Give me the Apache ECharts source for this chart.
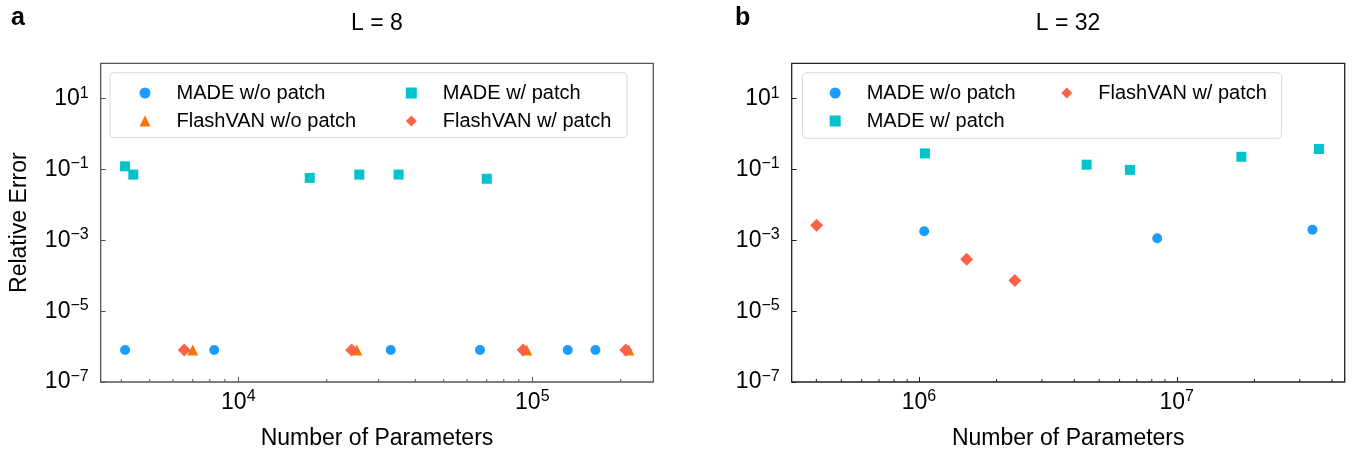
<!DOCTYPE html>
<html>
<head>
<meta charset="utf-8">
<script src="https://cdn.jsdelivr.net/npm/echarts@6/dist/echarts.min.js"></script>
<style>
html, body { margin: 0; padding: 0; background: #fff; }
#chart { width: 1356px; height: 455px; }
</style>
</head>
<body>
<div id="chart"></div>
<script>
// panel a, L = 8  ([number of parameters, relative error])
const madeNoPatchA = [[4120, 8e-7], [8280, 8e-7], [33000, 8e-7], [66400, 8e-7], [132000, 8e-7], [164000, 8e-7]];
const flashNoPatchA = [[7000, 8e-7], [25300, 8e-7], [95700, 8e-7], [213000, 8e-7]];
const madePatchA = [[4120, 0.123], [4395, 0.072], [17500, 0.058], [25800, 0.072], [35100, 0.072], [70000, 0.055]];
const flashPatchA = [[6550, 8e-7], [24300, 8e-7], [93100, 8e-7], [208000, 8e-7]];

// panel b, L = 32
const madeNoPatchB = [[1.048e6, 1.8e-3], [8.4e6, 1.15e-3], [3.36e7, 2.0e-3]];
const madePatchB = [[1.055e6, 0.285], [4.47e6, 0.137], [6.58e6, 0.0975], [1.78e7, 0.229], [3.56e7, 0.379]];
const flashPatchB = [[4.01e5, 2.65e-3], [1.531e6, 2.95e-4], [2.355e6, 7.4e-5]];

// log minor ticks on the x axes
const minorTicksA = [4000, 5000, 6000, 7000, 8000, 9000, 20000, 30000, 40000, 50000, 60000, 70000, 80000, 90000, 200000];
const minorTicksB = [4e5, 5e5, 6e5, 7e5, 8e5, 9e5, 2e6, 3e6, 4e6, 5e6, 6e6, 7e6, 8e6, 9e6, 2e7, 3e7, 4e7];

const FONT = "'Liberation Sans', Arial, Helvetica, sans-serif";
const C_MADE = '#1E9BFF', C_FLASH = '#F97306', C_MADE_P = '#00C4CC', C_FLASH_P = '#FF6347';

const rich = {
    b: { fontSize: 23, fontFamily: FONT, color: '#000' },
    s: { fontSize: 16, fontFamily: FONT, color: '#000', padding: [0, 0, 11, 0] }
};

function powLabel(value, oddOnly) {
    const e = Math.log10(value);
    const r = Math.round(e);
    if (Math.abs(e - r) > 1e-6) return '';
    if (oddOnly && r % 2 === 0) return '';
    return '{b|10}{s|' + (r < 0 ? '\u2212' + (-r) : r) + '}';
}

function xAxisCfg(idx, min, max, color) {
    return {
        type: 'log', logBase: 10, gridIndex: idx, min: min, max: max,
        axisLine: { show: false },
        axisTick: { inside: true, length: 5, lineStyle: { color: color, width: 1 } },
        splitLine: { show: false },
        axisLabel: { margin: 7, formatter: v => powLabel(v, false), rich: rich },
        name: 'Number of Parameters', nameLocation: 'middle', nameGap: 45,
        nameTextStyle: { fontSize: 23, fontFamily: FONT, color: '#000' }
    };
}

function yAxisCfg(idx, color, name) {
    return {
        type: 'log', logBase: 10, gridIndex: idx, min: 1e-7, max: 100, interval: 2,
        axisLine: { show: false },
        axisTick: { inside: true, length: 5, lineStyle: { color: color, width: 1 } },
        splitLine: { show: false },
        axisLabel: { margin: 12, formatter: v => powLabel(v, true), rich: rich },
        name: name, nameLocation: 'middle', nameGap: 70,
        nameTextStyle: { fontSize: 23, fontFamily: FONT, color: '#000' }
    };
}

function scatter(name, idx, data, symbol, size, color) {
    return {
        name: name, type: 'scatter', xAxisIndex: idx, yAxisIndex: idx,
        symbol: symbol, symbolSize: size, data: data,
        itemStyle: { color: color, opacity: 1 }, z: 3
    };
}

function minorTicks(idx, ticks, color) {
    return {
        type: 'custom', xAxisIndex: idx, yAxisIndex: idx, silent: true, z: 1,
        data: ticks.map(v => [v, 1e-7]),
        renderItem: (params, api) => {
            const p = api.coord([api.value(0), api.value(1)]);
            return {
                type: 'line',
                shape: { x1: p[0], y1: p[1], x2: p[0], y2: p[1] - 3 },
                style: { stroke: color, lineWidth: 1 }
            };
        }
    };
}

// one legend column; the marker is centred at markerX, text starts 37px right of it
function legendCol(markerX, names) {
    return {
        orient: 'vertical', left: markerX - 5.5, top: 78, itemWidth: 11, itemHeight: 11, itemGap: 8,
        data: names, selectedMode: false,
        textStyle: { fontSize: 20, fontFamily: FONT, color: '#000', padding: [0, 0, 0, 21] }
    };
}

const chart = echarts.init(document.getElementById('chart'));
chart.setOption({
    animation: false,
    grid: [
        { left: 100.7, top: 63.3, width: 552.6, height: 320.7, show: true, borderColor: '#555', borderWidth: 1.3, backgroundColor: 'transparent' },
        { left: 791.7, top: 63.3, width: 553, height: 320.7, show: true, borderColor: '#222', borderWidth: 1.3, backgroundColor: 'transparent' }
    ],
    xAxis: [xAxisCfg(0, 3404, 2.58e5, '#555'), xAxisCfg(1, 3.21e5, 4.48e7, '#222')],
    yAxis: [yAxisCfg(0, '#555', 'Relative Error'), yAxisCfg(1, '#222', '')],
    legend: [
        legendCol(140, ['MADE w/o patch', 'FlashVAN w/o patch']),
        legendCol(406.3, ['MADE w/ patch', 'FlashVAN w/ patch']),
        legendCol(830.2, ['MADE w/o patch', 'MADE w/ patch']),
        legendCol(1061.8, ['FlashVAN w/ patch'])
    ],
    graphic: [
        { type: 'rect', z: 2, shape: { x: 110, y: 72.7, width: 517, height: 65, r: 4 }, style: { fill: 'rgba(255,255,255,0.8)', stroke: '#d9d9d9', lineWidth: 1 } },
        { type: 'rect', z: 2, shape: { x: 802.5, y: 72.7, width: 479, height: 65.6, r: 4 }, style: { fill: 'rgba(255,255,255,0.8)', stroke: '#d9d9d9', lineWidth: 1 } },
        { type: 'text', x: 11, y: 6, style: { text: 'a', font: 'bold 25px ' + FONT, fill: '#000' } },
        { type: 'text', x: 735, y: 6, style: { text: 'b', font: 'bold 25px ' + FONT, fill: '#000' } },
        { type: 'text', x: 377, y: 24, style: { text: 'L = 8', font: '23px ' + FONT, fill: '#000', align: 'center', verticalAlign: 'middle' } },
        { type: 'text', x: 1068, y: 24, style: { text: 'L = 32', font: '23px ' + FONT, fill: '#000', align: 'center', verticalAlign: 'middle' } }
    ],
    series: [
        scatter('MADE w/o patch', 0, madeNoPatchA, 'circle', 10, C_MADE),
        scatter('FlashVAN w/o patch', 0, flashNoPatchA, 'triangle', 11, C_FLASH),
        scatter('MADE w/ patch', 0, madePatchA, 'rect', 10, C_MADE_P),
        scatter('FlashVAN w/ patch', 0, flashPatchA, 'diamond', 13, C_FLASH_P),
        scatter('MADE w/o patch', 1, madeNoPatchB, 'circle', 10, C_MADE),
        scatter('MADE w/ patch', 1, madePatchB, 'rect', 10, C_MADE_P),
        scatter('FlashVAN w/ patch', 1, flashPatchB, 'diamond', 13, C_FLASH_P),
        minorTicks(0, minorTicksA, '#555'),
        minorTicks(1, minorTicksB, '#222')
    ]
});
</script>
</body>
</html>
